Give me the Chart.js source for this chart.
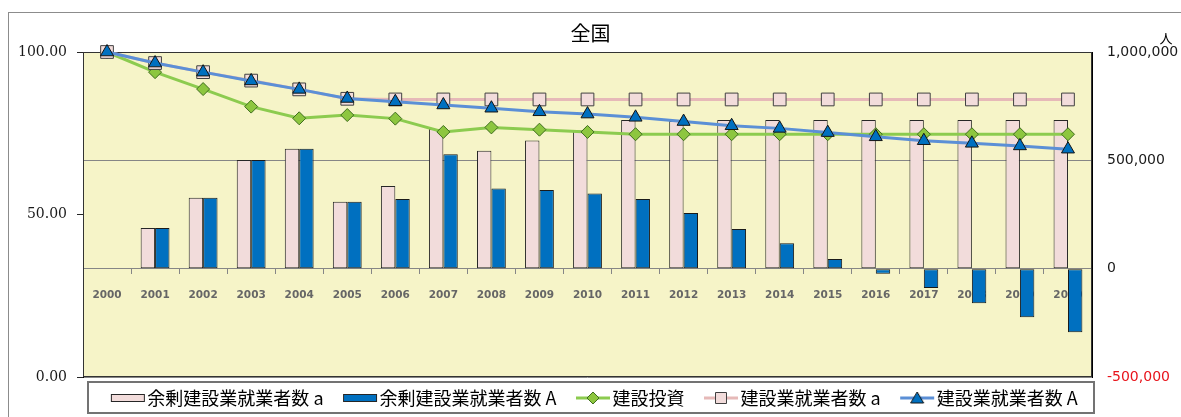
<!DOCTYPE html>
<html>
<head>
<meta charset="utf-8">
<script src="https://cdn.jsdelivr.net/npm/chart.js@4.4.1/dist/chart.umd.min.js"></script>
<style>
    body { margin: 0; background: #fff; }
    #wrap { width: 1181px; height: 417px; }
</style>
</head>
<body>
<div id="wrap"><canvas id="myChart" width="1181" height="417"></canvas></div>
<script>
var years = ['2000', '2001', '2002', '2003', '2004', '2005', '2006', '2007', '2008', '2009', '2010',
             '2011', '2012', '2013', '2014', '2015', '2016', '2017', '2018', '2019', '2020'];

// bars, right axis (people)
var surplusSmall = [null, 187500, 327000, 501000, 554000, 309000, 381000, 645000, 544000, 592000, 638000,
                    686000, 682000, 686000, 686000, 686000, 686000, 686000, 686000, 686000, 686000];
var surplusLarge = [null, 187500, 327000, 501000, 554000, 309000, 322000, 528000, 370000, 363000, 347000,
                    322000, 257000, 183000, 117000, 45000, -24000, -89000, -160000, -224000, -294000];

// lines, left axis (index, 2000 = 100)
var investment = [100, 93.8, 88.6, 83.2, 79.6, 80.6, 79.5, 75.4, 76.8, 76.1, 75.4,
                  74.7, 74.7, 74.7, 74.7, 74.7, 74.7, 74.7, 74.7, 74.7, 74.7];
var workersSmall = [100, 96.6, 93.8, 91.2, 88.5, 85.6, 85.4, 85.4, 85.4, 85.4, 85.4,
                    85.4, 85.4, 85.4, 85.4, 85.4, 85.4, 85.4, 85.4, 85.4, 85.4];
var workersLarge = [100, 96.6, 93.8, 91.1, 88.5, 85.7, 84.7, 83.7, 82.7, 81.6, 80.9,
                    79.9, 78.6, 77.3, 76.5, 75.2, 73.9, 72.7, 71.9, 71.1, 70.1];

var leftTicks = [0, 50, 100];
var rightTicks = [-500000, 0, 500000, 1000000];

function legendIcon(kind, fill, stroke, line) {
    var c = document.createElement('canvas');
    c.width = 50;
    c.height = 16;
    var g = c.getContext('2d');
    if (kind === 'bar') {
        g.fillStyle = fill;
        g.strokeStyle = '#262626';
        g.lineWidth = 1;
        g.fillRect(15.5, 4.5, 33, 7);
        g.strokeRect(15.5, 4.5, 33, 7);
        return c;
    }
    g.strokeStyle = line;
    g.lineWidth = 3;
    g.beginPath();
    g.moveTo(15, 8);
    g.lineTo(49, 8);
    g.stroke();
    g.fillStyle = fill;
    g.strokeStyle = stroke;
    g.lineWidth = 1;
    g.beginPath();
    var cx = 32, cy = 8;
    if (kind === 'rectRot') {
        g.moveTo(cx - 6, cy); g.lineTo(cx, cy - 6); g.lineTo(cx + 6, cy); g.lineTo(cx, cy + 6); g.closePath();
    } else if (kind === 'rect') {
        g.rect(cx - 5.5, cy - 5.5, 11, 11);
    } else {
        g.moveTo(cx, cy - 6); g.lineTo(cx + 6.5, cy + 5); g.lineTo(cx - 6.5, cy + 5); g.closePath();
    }
    g.fill();
    g.stroke();
    return c;
}

var legendIcons = [
    legendIcon('bar', '#F2DCDB'),
    legendIcon('bar', '#0070C0'),
    legendIcon('rectRot', '#8DC63F', '#3F6E1E', '#8CCB4F'),
    legendIcon('rect', '#F2DCDB', '#404040', '#E6B9B8'),
    legendIcon('triangle', '#0070C0', '#141414', '#5B8FD6')
];

var chartFrame = {
    id: 'chartFrame',
    beforeDraw: function (chart) {
        var ctx = chart.ctx, a = chart.chartArea;
        ctx.save();
        ctx.fillStyle = '#fff';
        ctx.fillRect(0, 0, chart.width, chart.height);
        ctx.strokeStyle = '#8c8c8c';
        ctx.lineWidth = 1;
        ctx.strokeRect(8.5, 12.5, chart.width, chart.height);
        ctx.fillStyle = '#F6F4C8';
        ctx.fillRect(a.left, a.top, a.right - a.left, a.bottom - a.top);
        ctx.restore();
    },
    beforeDatasetsDraw: function (chart) {
        var ctx = chart.ctx, a = chart.chartArea;
        ctx.save();
        ctx.strokeStyle = '#333';
        ctx.lineWidth = 1;
        ctx.strokeRect(Math.round(a.left) + 0.5, Math.round(a.top) + 0.5,
            Math.round(a.right - a.left) - 1, Math.round(a.bottom - a.top) - 1);
        ctx.restore();
    },
    afterDraw: function (chart) {
        var ctx = chart.ctx;
        var lg = chart.legend, hb = lg.legendHitBoxes;
        var first = hb[0], last = hb[hb.length - 1];
        var l = Math.round(first.left) - 15;
        var r = Math.round(last.left + last.width) + 16;
        ctx.save();
        ctx.strokeStyle = '#737373';
        ctx.lineWidth = 2;
        ctx.strokeRect(l, Math.round(lg.top) + 5, r - l, 31);
        ctx.fillStyle = '#000';
        ctx.font = "13px 'Noto Sans CJK JP'";
        ctx.textAlign = 'center';
        ctx.textBaseline = 'middle';
        ctx.fillText('人', 1166, 38);
        ctx.restore();
    }
};

new Chart(document.getElementById('myChart'), {
    type: 'bar',
    data: {
        labels: years,
        datasets: [{
            type: 'bar',
            label: '余剰建設業就業者数 a',
            data: surplusSmall,
            yAxisID: 'y1',
            backgroundColor: '#F2DCDB',
            borderColor: '#262626',
            borderWidth: 1,
            borderSkipped: false,
            categoryPercentage: 0.6,
            barPercentage: 1,
            order: 5
        }, {
            type: 'bar',
            label: '余剰建設業就業者数 A',
            data: surplusLarge,
            yAxisID: 'y1',
            backgroundColor: '#0070C0',
            borderColor: '#1a1a1a',
            borderWidth: 1,
            borderSkipped: false,
            categoryPercentage: 0.6,
            barPercentage: 1,
            order: 5
        }, {
            type: 'line',
            label: '建設投資',
            data: investment,
            yAxisID: 'y',
            borderColor: '#8CCB4F',
            borderWidth: 3,
            pointStyle: 'rectRot',
            pointRadius: 6.5,
            pointBackgroundColor: '#8DC63F',
            pointBorderColor: '#3F6E1E',
            pointBorderWidth: 1,
            clip: false,
            order: 3
        }, {
            type: 'line',
            label: '建設業就業者数 a',
            data: workersSmall,
            yAxisID: 'y',
            borderColor: '#E6B9B8',
            borderWidth: 3,
            pointStyle: 'rect',
            pointRadius: 9,
            pointBackgroundColor: '#F2DCDB',
            pointBorderColor: '#404040',
            pointBorderWidth: 1,
            clip: false,
            order: 2
        }, {
            type: 'line',
            label: '建設業就業者数 A',
            data: workersLarge,
            yAxisID: 'y',
            borderColor: '#5B8FD6',
            borderWidth: 3,
            pointStyle: 'triangle',
            pointRadius: 7.5,
            pointBackgroundColor: '#0070C0',
            pointBorderColor: '#141414',
            pointBorderWidth: 1,
            clip: false,
            order: 1
        }]
    },
    options: {
        responsive: false,
        animation: false,
        layout: { padding: 0 },
        scales: {
            x: {
                position: { y1: 0 },
                offset: true,
                grid: { offset: true, drawOnChartArea: false, tickLength: 5, color: '#868686' },
                border: { color: '#868686' },
                ticks: {
                    padding: 15,
                    color: '#666666',
                    maxRotation: 0,
                    autoSkip: false,
                    font: { family: 'DejaVu Sans', size: 10.5, weight: 'bold' }
                }
            },
            y: {
                position: 'left',
                min: 0,
                max: 100,
                afterBuildTicks: function (s) { s.ticks = leftTicks.map(function (v) { return { value: v }; }); },
                afterFit: function (s) { s.width = 83; },
                grid: { drawOnChartArea: false, tickLength: 6, color: '#262626' },
                border: { color: '#000' },
                ticks: {
                    padding: 10,
                    color: '#1a1a1a',
                    font: { family: 'DejaVu Serif', size: 14 },
                    callback: function (v) { return Number(v).toFixed(2); }
                }
            },
            y1: {
                position: 'right',
                min: -500000,
                max: 1000000,
                afterBuildTicks: function (s) { s.ticks = rightTicks.map(function (v) { return { value: v }; }); },
                afterFit: function (s) { s.width = 89; },
                grid: { drawTicks: false, color: '#868686' },
                border: { color: '#000' },
                ticks: {
                    padding: 15,
                    color: function (c) { return c.tick && c.tick.value < 0 ? '#E8141B' : '#1a1a1a'; },
                    font: { family: 'DejaVu Sans', size: 14 },
                    callback: function (v) { return Number(v).toLocaleString('en-US'); }
                }
            }
        },
        plugins: {
            title: {
                display: true,
                text: '全国',
                color: '#000',
                font: { family: "'Noto Sans CJK JP'", size: 20, weight: 'normal' },
                padding: { top: 21, bottom: 7 }
            },
            legend: {
                position: 'bottom',
                labels: {
                    usePointStyle: true,
                    pointStyleWidth: 35,
                    padding: 12,
                    color: '#000',
                    font: { family: "'Noto Sans CJK JP'", size: 18 },
                    generateLabels: function (chart) {
                        return chart.data.datasets.map(function (ds, i) {
                            return {
                                text: ds.label,
                                pointStyle: legendIcons[i],
                                datasetIndex: i,
                                fontColor: '#000',
                                lineWidth: 0,
                                hidden: false
                            };
                        });
                    }
                }
            },
            tooltip: { enabled: false }
        }
    },
    plugins: [chartFrame]
});
</script>
</body>
</html>
